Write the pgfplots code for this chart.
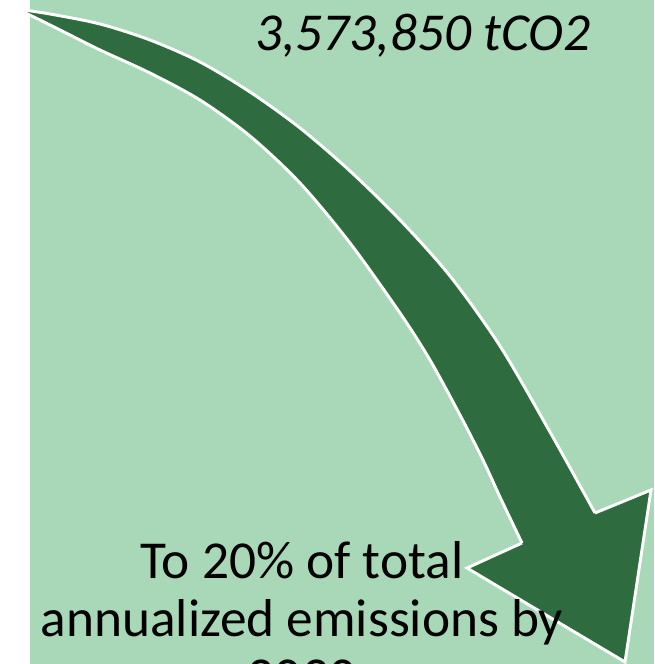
\documentclass[border=0pt]{standalone}
\usepackage{pgfplots}
\pgfplotsset{compat=1.18}
\usepackage{fontspec}
\setmainfont{Carlito}
\definecolor{bggreen}{HTML}{A9D8B8}
\definecolor{arrowgreen}{HTML}{2E6B3E}
\begin{document}
\begin{tikzpicture}
\begin{axis}[
    scale only axis,
    width=490.5pt, height=498pt,
    xmin=0, xmax=654, ymin=0, ymax=664,
    y dir=reverse,
    hide axis,
    clip=false,
]
% background panel
\addplot[fill=bggreen, draw=none] coordinates {(30,0) (654,0) (654,664) (30,664)} -- cycle;
% arrow body: outer edge, head, inner edge
\addplot[fill=arrowgreen, draw=none] coordinates {
    (17,9) (50,14) (100,24) (150,40) (200,62) (250,92) (300,128) (350,171)
    (400,220) (450,276) (500,346) (550,432) (595,513)
    (651,490) (625,662) (467,568) (522,543)
    (500,497) (483,460) (460,415) (430,360) (400,313) (350,243) (300,183)
    (250,136) (200,100) (150,73) (100,50) (70,35) (40,20)
} -- cycle;
% white outlines
\addplot[smooth, white, line width=2.2pt] coordinates {
    (17,9) (50,14) (100,24) (150,40) (200,62) (250,92) (300,128) (350,171)
    (400,220) (450,276) (500,346) (550,432) (595,513)
};
\addplot[smooth, white, line width=2.2pt] coordinates {
    (522,543) (500,497) (483,460) (460,415) (430,360) (400,313) (350,243)
    (300,183) (250,136) (200,100) (150,73) (100,50) (70,35) (40,20) (17,9)
};
\addplot[white, line width=2.2pt, line join=miter] coordinates {
    (595,513) (651,490) (625,662) (467,568) (522,543)
};
\node[font=\fontsize{40}{48}\selectfont\itshape, anchor=base] at (axis cs:423,50) {3,573,850 tCO2};
\node[font=\fontsize{40}{48}\selectfont, anchor=base] at (axis cs:302,578) {To 20\% of total};
\node[font=\fontsize{40}{48}\selectfont, anchor=base] at (axis cs:302,636) {annualized emissions by};
\node[font=\fontsize{40}{48}\selectfont, anchor=base] at (axis cs:302,694) {2030};
\end{axis}
\pgfresetboundingbox
\useasboundingbox (current axis.south west) rectangle (current axis.north east);
\end{tikzpicture}
\end{document}
